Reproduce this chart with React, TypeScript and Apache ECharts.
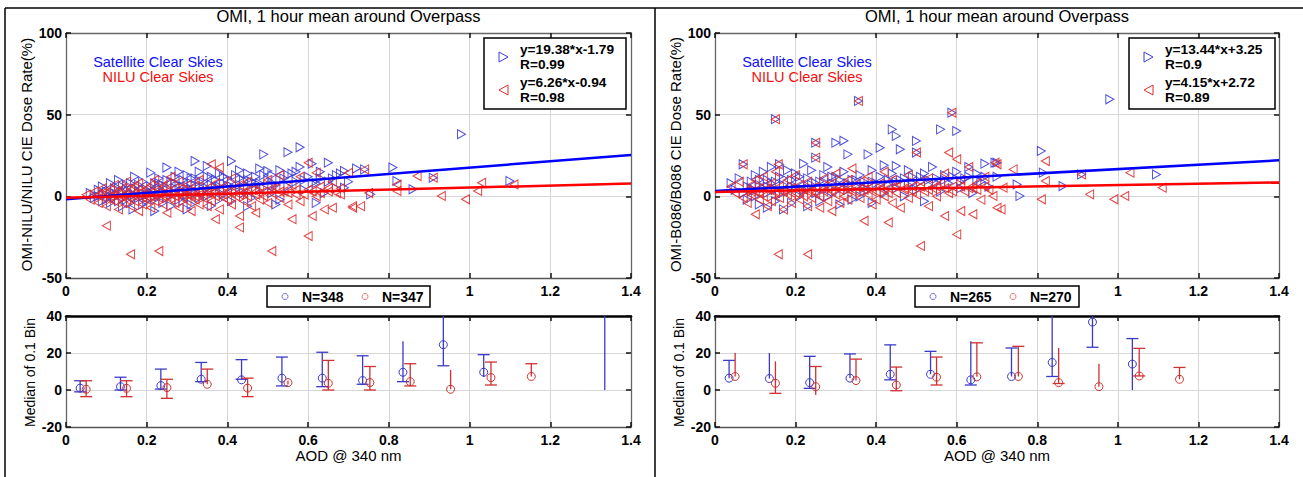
import React, { useEffect, useRef } from "react";
import * as echarts from "echarts";

// ---------- data ----------
const xTickLabels = ["0", "0.2", "0.4", "0.6", "0.8", "1", "1.2", "1.4"];
// labels hidden behind the N= legend box in the upper plots
const hiddenTopLabels = ["0.6", "0.8"];
const topYTicks = [-50, 0, 50, 100];
const botYTicks = [-20, 0, 20, 40];

// Left panel scatter (OMI-NILU/NILU), satellite clear skies (blue) and NILU clear skies (red)
const leftBlue: number[][] = [
  [0.06,2],[0.07,-1],[0.08,4],[0.08,0],[0.09,-3],[0.09,6],[0.10,1],[0.10,-2],[0.10,3],[0.11,8],[0.11,-4],[0.11,0],[0.12,2],[0.12,5],[0.12,-1],[0.13,10],[0.13,-3],[0.13,1],[0.14,3],[0.14,-6],[0.14,6],[0.15,0],[0.15,4],[0.15,-2],[0.16,8],[0.16,2],[0.16,-4],[0.17,1],[0.17,5],[0.17,12],[0.18,-1],[0.18,3],[0.18,7],[0.19,0],[0.19,-5],[0.19,9],[0.20,4],[0.20,1],[0.20,-3],[0.21,6],[0.21,14.5],[0.21,2],[0.22,-2],[0.22,8],[0.22,3],[0.23,0],[0.23,11],[0.23,5],[0.24,-4],[0.24,2],[0.24,7],[0.25,17.6],[0.25,4],[0.25,-1],[0.26,9],[0.26,1],[0.26,-6],[0.27,5],[0.27,12],[0.27,2],[0.28,-2],[0.28,7],[0.28,15],[0.29,3],[0.29,10],[0.29,-3],[0.30,6],[0.30,1],[0.30,13],[0.31,4],[0.31,-5],[0.31,8],[0.32,21.6],[0.32,2],[0.32,11],[0.33,6],[0.33,-1],[0.33,15],[0.34,3],[0.34,9],[0.35,18.6],[0.35,5],[0.35,0],[0.36,-5.9],[0.36,12],[0.36,7],[0.37,3],[0.37,10],[0.38,14],[0.38,6],[0.38,-2],[0.39,8],[0.39,1],[0.40,11],[0.40,5],[0.41,21.6],[0.41,9],[0.41,-3],[0.42,13],[0.42,4],[0.43,7],[0.43,16],[0.44,10],[0.44,2],[0.45,6],[0.45,14],[0.46,9],[0.46,-1],[0.47,12],[0.47,4],[0.48,8],[0.48,17],[0.49,25.7],[0.49,5],[0.50,15.5],[0.50,10],[0.51,2],[0.51,13],[0.52,7],[0.53,16],[0.53,-2],[0.54,11],[0.55,27],[0.55,6],[0.56,14],[0.57,9],[0.58,30],[0.58,18],[0.59,4],[0.60,12],[0.61,20],[0.62,8],[0.63,15],[0.64,2],[0.65,20.6],[0.66,11],[0.67,5],[0.68,14],[0.69,15.5],[0.69,5.3],[0.70,9],[0.72,17],[0.74,16.5],[0.755,1.2],[0.81,17.6],[0.82,9.4],[0.86,4.3],[0.91,11.4],[0.98,38],[1.10,9.4],[0.166,-8],[0.22,-9],[0.30,-8],[0.45,-6],[0.52,-5],[0.62,-4],
  [0.09,1],[0.11,3],[0.13,5],[0.15,7],[0.17,-1],[0.19,4],[0.21,-1],[0.23,8],[0.25,10],[0.27,8],[0.29,6],[0.31,11],[0.33,9],[0.35,12],[0.37,6],[0.39,12],[0.41,6],[0.43,11],[0.45,10],[0.47,8],[0.49,13],[0.51,7],[0.53,10],[0.55,13],[0.57,15],[0.59,10],[0.61,8],[0.63,11],[0.65,9],[0.67,13]
];
const leftRed: number[][] = [
  [0.05,1],[0.06,-2],[0.07,3],[0.08,-4],[0.08,1],[0.09,5],[0.09,-1],[0.10,-18],[0.10,2],[0.10,-6],[0.11,0],[0.11,4],[0.12,-3],[0.12,7],[0.12,1],[0.13,-1],[0.13,3],[0.13,-8],[0.14,5],[0.14,0],[0.14,-4],[0.15,2],[0.15,9],[0.15,-2],[0.16,-35.5],[0.16,4],[0.16,-6],[0.17,0],[0.17,6],[0.17,-3],[0.18,2],[0.18,-9],[0.18,8],[0.19,-1],[0.19,3],[0.19,-5],[0.20,5],[0.20,0],[0.20,-2],[0.21,7],[0.21,-7],[0.21,2],[0.22,-3],[0.22,10],[0.22,1],[0.23,-33.5],[0.23,4],[0.23,-1],[0.24,-5],[0.24,6],[0.24,0],[0.25,3],[0.25,-10],[0.25,8],[0.26,-2],[0.26,1],[0.26,12],[0.27,5],[0.27,-4],[0.27,0],[0.28,2],[0.28,-7],[0.28,9],[0.29,-1],[0.29,4],[0.30,-3],[0.30,7],[0.30,1],[0.31,-9],[0.31,3],[0.32,6],[0.32,-2],[0.32,0],[0.33,10],[0.33,-5],[0.33,3],[0.34,1],[0.34,-1],[0.35,5],[0.35,-6],[0.36,19.6],[0.36,2],[0.36,-3],[0.37,-14],[0.37,8],[0.37,0],[0.38,17.6],[0.38,4],[0.38,-8],[0.39,1],[0.39,6],[0.40,-2],[0.40,3],[0.41,11],[0.41,-5],[0.42,0],[0.42,5],[0.43,-12],[0.43,-19],[0.43,7],[0.44,2],[0.44,-3],[0.45,9],[0.45,0],[0.46,-6],[0.46,4],[0.47,-10],[0.47,1],[0.48,6],[0.48,-2],[0.49,3],[0.50,10],[0.50,-4],[0.51,-33.5],[0.51,2],[0.52,5],[0.53,-1],[0.53,13],[0.54,3],[0.55,-5],[0.56,-14],[0.56,7],[0.57,1],[0.58,12],[0.58,-3],[0.60,20.6],[0.60,-24.3],[0.60,4],[0.61,-12],[0.62,14.5],[0.62,0],[0.63,6],[0.64,-8],[0.65,3],[0.66,-7],[0.66,9],[0.68,1.2],[0.68,5],[0.70,14.4],[0.71,-7],[0.71,-6],[0.73,-6],[0.74,16.5],[0.75,2],[0.82,3.3],[0.82,7.3],[0.87,12.4],[0.91,11.4],[0.93,0.2],[0.99,-1.8],[1.02,3.3],[1.03,8.3],[1.11,7.3],
  [0.09,2],[0.11,-2],[0.13,1],[0.15,0],[0.17,2],[0.19,1],[0.21,0],[0.23,2],[0.25,0],[0.27,2],[0.29,1],[0.31,0],[0.33,1],[0.35,2],[0.37,3],[0.39,-1],[0.41,2],[0.43,1],[0.45,4],[0.47,3],[0.49,0],[0.51,5],[0.53,3],[0.55,2],[0.57,4],[0.59,1],[0.61,3],[0.63,2],[0.65,5],[0.67,2]
];

// Right panel scatter (OMI-B086/B086)
const rightBlue: number[][] = [
  [0.04,8],[0.05,4],[0.06,11],[0.07,19.6],[0.07,2],[0.08,6],[0.08,-2],[0.09,9],[0.09,3],[0.10,13],[0.10,0],[0.11,7],[0.11,-5],[0.12,5],[0.12,15],[0.13,2],[0.13,10],[0.13,-7],[0.14,8],[0.14,18],[0.15,4],[0.15,47.2],[0.15,-3],[0.16,12],[0.16,19.6],[0.16,1],[0.17,7],[0.17,-8],[0.18,16],[0.18,3],[0.19,10],[0.19,-4],[0.20,6],[0.20,14],[0.21,0],[0.21,9],[0.22,20],[0.22,4],[0.23,-6],[0.23,11],[0.24,7],[0.24,16],[0.25,32.8],[0.25,23.7],[0.25,2],[0.26,9],[0.26,-3],[0.27,13],[0.27,5],[0.28,18],[0.28,0],[0.29,8],[0.30,32.8],[0.30,3],[0.30,12],[0.31,-5],[0.31,7],[0.32,34],[0.32,15],[0.33,25.7],[0.33,4],[0.34,10],[0.34,-2],[0.35,6],[0.356,58.4],[0.36,13],[0.36,0],[0.37,9],[0.38,25.7],[0.38,4],[0.39,16],[0.39,-4],[0.40,8],[0.41,29.8],[0.41,12],[0.42,2],[0.42,19],[0.43,7],[0.44,41],[0.44,14],[0.45,37],[0.45,5],[0.45,18.6],[0.46,28.8],[0.46,10],[0.47,0],[0.48,16],[0.48,7],[0.49,12],[0.50,33.9],[0.50,26.8],[0.50,4],[0.51,9],[0.52,14],[0.52,-3],[0.53,7],[0.54,18],[0.55,11],[0.56,41],[0.56,3],[0.57,13],[0.58,8],[0.588,51.2],[0.60,40],[0.60,15],[0.61,5],[0.62,11],[0.63,18],[0.64,2],[0.65,14],[0.66,9],[0.67,20],[0.68,6],[0.695,20.6],[0.70,20.6],[0.70,12],[0.75,7.3],[0.757,0.2],[0.81,27.8],[0.815,14.5],[0.864,6.3],[0.91,13.4],[0.98,59.4],[1.096,13.4],
  [0.09,5],[0.11,10],[0.13,6],[0.15,9],[0.17,11],[0.19,6],[0.21,12],[0.23,5],[0.25,8],[0.27,9],[0.29,12],[0.31,10],[0.33,8],[0.35,10],[0.37,5],[0.39,9],[0.41,7],[0.43,10],[0.45,9],[0.47,11],[0.49,8],[0.51,12],[0.53,10],[0.55,8],[0.57,10],[0.59,12],[0.61,9],[0.63,12],[0.65,10],[0.67,12]
];
const rightRed: number[][] = [
  [0.04,6],[0.05,2],[0.06,9],[0.07,19.6],[0.07,-1],[0.08,4],[0.08,-4],[0.09,7],[0.09,1],[0.10,-11],[0.10,10],[0.10,3],[0.11,-2],[0.11,5],[0.12,12],[0.12,0],[0.13,-6],[0.13,4],[0.14,8],[0.14,-3],[0.15,47.2],[0.15,2],[0.15,15],[0.157,-35.5],[0.157,19.6],[0.16,6],[0.16,-1],[0.17,3],[0.17,-8],[0.18,10],[0.18,1],[0.19,-4],[0.19,5],[0.20,2],[0.20,13],[0.21,-2],[0.21,7],[0.22,0],[0.22,4],[0.23,-35.5],[0.23,9],[0.23,-6],[0.24,3],[0.24,-1],[0.25,32.8],[0.25,23.7],[0.25,6],[0.26,0],[0.26,-7],[0.27,11],[0.27,3],[0.28,-3],[0.28,5],[0.29,-9],[0.29,8],[0.30,1],[0.30,14],[0.31,4],[0.31,-4],[0.32,7],[0.32,0],[0.33,10],[0.33,-2],[0.34,3],[0.34,17],[0.35,6],[0.356,58.4],[0.36,-1],[0.36,9],[0.37,-15],[0.37,4],[0.38,12],[0.38,1],[0.39,-5],[0.39,6],[0.40,3],[0.40,-2],[0.41,8],[0.42,15],[0.42,0],[0.43,-16],[0.43,5],[0.44,-4],[0.44,10],[0.45,2],[0.46,7],[0.46,-7],[0.47,4],[0.48,13],[0.48,-1],[0.49,6],[0.50,26.8],[0.50,1],[0.51,-30.4],[0.51,9],[0.52,3],[0.53,-6],[0.53,11],[0.54,5],[0.55,0],[0.56,8],[0.57,-12],[0.57,14],[0.58,26.8],[0.58,2],[0.588,51.2],[0.59,6],[0.60,22.7],[0.60,-23.3],[0.61,-9],[0.61,10],[0.62,3],[0.63,18],[0.64,-11],[0.64,5],[0.65,8],[0.66,-2],[0.67,12],[0.68,4],[0.69,0.2],[0.695,20.6],[0.70,-7],[0.70,19.6],[0.71,-8],[0.715,5.3],[0.74,16.5],[0.81,-1.8],[0.82,21.6],[0.82,9.4],[0.91,13.4],[0.93,1.2],[0.99,-1.8],[1.017,0.2],[1.03,14.5],[1.11,5.3],
  [0.09,3],[0.11,2],[0.13,5],[0.15,3],[0.17,4],[0.19,2],[0.21,4],[0.23,3],[0.25,2],[0.27,5],[0.29,3],[0.31,6],[0.33,4],[0.35,3],[0.37,6],[0.39,3],[0.41,5],[0.43,2],[0.45,6],[0.47,5],[0.49,3],[0.51,6],[0.53,4],[0.55,6],[0.57,5],[0.59,3],[0.61,6],[0.63,5],[0.65,4],[0.67,6]
];

// Regression fits [slope, intercept]
const leftFitBlue = [19.38, -1.79];
const leftFitRed = [6.26, -0.94];
const rightFitBlue = [13.44, 3.25];
const rightFitRed = [4.15, 2.72];

// Median of 0.1 bins: [x, median, low, high, capLow, capHigh]
const leftMedBlue: number[][] = [
  [0.035,1,-1,5,1,1],[0.135,1.8,0,6.9,1,1],[0.235,2.4,0.5,11.3,1,1],[0.335,5.8,4.5,14.9,1,1],
  [0.435,5.5,5.8,16.4,1,1],[0.535,6.4,2.2,17.8,1,1],[0.635,6.4,1.8,20.4,1,1],[0.735,5.1,3.1,18.5,1,1],
  [0.835,9.6,4.5,26.4,1,0],[0.935,24.5,13.1,45,1,0],[1.035,9.6,7,19.1,0,1],[1.335,48,0,70,0,0]
];
const leftMedRed: number[][] = [
  [0.05,0.4,-3.6,5,1,1],[0.15,0.9,-3.6,5,1,1],[0.25,1.3,-4.5,5.8,1,1],[0.35,3.1,3.1,11.3,0,1],
  [0.45,1,-3.6,6.4,1,1],[0.55,4,3,5,0,0],[0.65,3.6,0,16,1,1],[0.753,4,0,12.7,1,1],
  [0.853,4.5,2.2,14.2,1,1],[0.953,0.4,0.4,10.9,0,0],[1.053,6.7,2.7,15.1,1,1],[1.153,7.3,7.3,14.2,0,1]
];
const rightMedBlue: number[][] = [
  [0.035,6.4,6.4,16,0,1],[0.135,6.2,6.2,20,0,0],[0.235,4,0.9,18.2,1,1],[0.335,6.4,6.4,19.5,0,1],
  [0.435,8.5,5.5,24.4,1,1],[0.535,8.5,8.5,20.9,0,1],[0.635,5.5,2.7,26.4,1,0],[0.736,7.3,7.3,22.7,0,1],
  [0.837,14.9,7.3,50,1,0],[0.937,36.7,23.1,45,1,0],[1.036,14,0,27.8,0,1]
];
const rightMedRed: number[][] = [
  [0.05,7.3,7.3,20,0,0],[0.15,3.6,-1.8,15.5,1,0],[0.25,1.8,-2.7,12.7,0,1],[0.35,5.1,5.1,16.7,0,1],
  [0.45,2.7,-0.4,12.4,1,1],[0.55,6.9,2.7,17.8,1,1],[0.65,7.1,7.1,25.5,0,1],[0.753,7.3,7.3,23.6,0,1],
  [0.853,4,3.5,22.7,1,0],[0.953,1.8,1.8,14.2,0,0],[1.053,7.6,7.6,22.5,1,1],[1.153,5.8,5.8,12.2,0,1]
];

const titleText = "OMI, 1 hour mean around Overpass";
const legendSat = "Satellite Clear Skies";
const legendNilu = "NILU Clear Skies";

// ---------- styling ----------
const FONT = '"Liberation Sans", Arial, sans-serif';
const BLUE = "#3c3cd8";
const RED = "#e02c2c";
const BLUE_LINE = "#0000ff";
const RED_LINE = "#ff0000";
const BLUE_ERR = "#3a3ac8";
const RED_ERR = "#cf3030";

const panels = [
  {
    left: 66, width: 565,
    ylabel: "OMI-NILU/NILU CIE Dose Rate(%)",
    blue: leftBlue, red: leftRed, fitB: leftFitBlue, fitR: leftFitRed,
    eqB: "y=19.38*x-1.79", rB: "R=0.99", eqR: "y=6.26*x-0.94", rR: "R=0.98",
    nB: "N=348", nR: "N=347", medB: leftMedBlue, medR: leftMedRed,
    legX: 484, legW: 142, nX: 267, nW: 163,
  },
  {
    left: 715, width: 564,
    ylabel: "OMI-B086/B086 CIE Dose Rate(%)",
    blue: rightBlue, red: rightRed, fitB: rightFitBlue, fitR: rightFitRed,
    eqB: "y=13.44*x+3.25", rB: "R=0.9", eqR: "y=4.15*x+2.72", rR: "R=0.89",
    nB: "N=265", nR: "N=270", medB: rightMedBlue, medR: rightMedRed,
    legX: 1129, legW: 146, nX: 915, nW: 164,
  },
];

const TOP_Y = 33, TOP_H = 245, BOT_Y = 316, BOT_H = 111;

function xAxesFor(gi: number, bottomPlot: boolean) {
  const label = {
    show: true, fontFamily: FONT, fontWeight: "bold", fontSize: 14, color: "#000", margin: 6,
    formatter: (v: number) => {
      const s = xTickLabels[Math.round(v / 0.2)] ?? String(v);
      if (!bottomPlot && hiddenTopLabels.includes(s)) return "";
      return s;
    },
  };
  return [
    {
      type: "value", gridIndex: gi, min: 0, max: 1.4, interval: 0.2, position: "bottom",
      axisLine: { show: true, onZero: false, lineStyle: { color: "#555", width: 1.3 } },
      axisTick: { show: true, inside: true, length: 5, lineStyle: { color: "#111", width: 1.5 } },
      axisLabel: label,
      splitLine: { show: true, lineStyle: { color: "#d6d6d6", width: 1 } },
    },
    {
      type: "value", gridIndex: gi, min: 0, max: 1.4, interval: 0.2, position: "top",
      axisLine: { show: true, onZero: false, lineStyle: { color: bottomPlot ? "#000" : "#666", width: bottomPlot ? 2.5 : 1.3 } },
      axisTick: { show: true, inside: true, length: 5, lineStyle: { color: "#111", width: 1.5 } },
      axisLabel: { show: false },
      splitLine: { show: false },
    },
  ];
}

function yAxesFor(gi: number, ticks: number[]) {
  const min = ticks[0], max = ticks[ticks.length - 1], interval = ticks[1] - ticks[0];
  return [
    {
      type: "value", gridIndex: gi, min, max, interval, position: "left",
      axisLine: { show: true, onZero: false, lineStyle: { color: "#666", width: 1.3 } },
      axisTick: { show: true, inside: true, length: 5, lineStyle: { color: "#111", width: 1.5 } },
      axisLabel: { show: true, fontFamily: FONT, fontWeight: "bold", fontSize: 14, color: "#000", margin: 4 },
      splitLine: { show: true, lineStyle: { color: "#d6d6d6", width: 1 } },
    },
    {
      type: "value", gridIndex: gi, min, max, interval, position: "right",
      axisLine: { show: true, onZero: false, lineStyle: { color: "#666", width: 1.3 } },
      axisTick: { show: true, inside: true, length: 5, lineStyle: { color: "#111", width: 1.5 } },
      axisLabel: { show: false },
      splitLine: { show: false },
    },
  ];
}

function errRender(color: string) {
  return (params: any, api: any) => {
    const x = api.value(0), m = api.value(1), lo = api.value(2), hi = api.value(3);
    const cl = api.value(4), ch = api.value(5);
    const cs = params.coordSys;
    const top = cs.y, bot = cs.y + cs.height;
    const pm = api.coord([x, m]);
    const pl = api.coord([x, lo]);
    const ph = api.coord([x, hi]);
    const cx = pm[0];
    const cy = (v: number) => Math.max(top, Math.min(bot, v));
    const inside = (v: number) => v >= top - 0.5 && v <= bot + 0.5;
    const children: any[] = [];
    children.push({
      type: "line",
      shape: { x1: cx, y1: cy(pl[1]), x2: cx, y2: cy(ph[1]) },
      style: { stroke: color, lineWidth: 1.3 },
    });
    if (cl && inside(pl[1]))
      children.push({ type: "line", shape: { x1: cx - 6, y1: pl[1], x2: cx + 6, y2: pl[1] }, style: { stroke: color, lineWidth: 1.3 } });
    if (ch && inside(ph[1]))
      children.push({ type: "line", shape: { x1: cx - 6, y1: ph[1], x2: cx + 6, y2: ph[1] }, style: { stroke: color, lineWidth: 1.3 } });
    if (inside(pm[1]))
      children.push({ type: "circle", shape: { cx, cy: pm[1], r: 4 }, style: { fill: "rgba(255,255,255,0)", stroke: color, lineWidth: 1 } });
    return { type: "group", children };
  };
}

const RIGHT_TRI = "path://M0,0L10,5.5L0,11Z";
const LEFT_TRI = "path://M10,0L0,5.5L10,11Z";

function centerText(text: string, x: number, y: number, font: string, fill: string, rotation = 0) {
  return {
    type: "text", x, y, rotation, z: 100,
    style: { text, font, fill, textAlign: "center", textVerticalAlign: "middle", align: "center", verticalAlign: "middle" },
  };
}
function leftText(text: string, x: number, y: number, font: string) {
  return {
    type: "text", x, y, z: 101,
    style: { text, font, fill: "#000", textAlign: "left", textVerticalAlign: "middle", align: "left", verticalAlign: "middle" },
  };
}

function buildOption() {
  const grid: any[] = [];
  const xAxis: any[] = [];
  const yAxis: any[] = [];
  const series: any[] = [];
  const graphic: any[] = [];

  panels.forEach((p, pi) => {
    const gTop = pi * 2, gBot = pi * 2 + 1;
    grid.push({ left: p.left, top: TOP_Y, width: p.width, height: TOP_H });
    grid.push({ left: p.left, top: BOT_Y, width: p.width, height: BOT_H });
    xAxis.push(...xAxesFor(gTop, false), ...xAxesFor(gBot, true));
    yAxis.push(...yAxesFor(gTop, topYTicks), ...yAxesFor(gBot, botYTicks));

    const xi = gTop * 2, yi = gTop * 2;
    series.push({
      type: "scatter", xAxisIndex: xi, yAxisIndex: yi, data: p.blue,
      symbol: RIGHT_TRI, symbolSize: [8, 9],
      itemStyle: { color: "rgba(255,255,255,0)", borderColor: BLUE, borderWidth: 1, opacity: 0.9 },
      z: 2,
    });
    series.push({
      type: "scatter", xAxisIndex: xi, yAxisIndex: yi, data: p.red,
      symbol: LEFT_TRI, symbolSize: [8, 9],
      itemStyle: { color: "rgba(255,255,255,0)", borderColor: RED, borderWidth: 1, opacity: 0.9 },
      z: 3,
    });
    series.push({
      type: "line", xAxisIndex: xi, yAxisIndex: yi,
      data: [[0, p.fitB[1]], [1.4, p.fitB[0] * 1.4 + p.fitB[1]]],
      showSymbol: false, symbol: "none", lineStyle: { color: BLUE_LINE, width: 2.5 }, z: 5,
    });
    series.push({
      type: "line", xAxisIndex: xi, yAxisIndex: yi,
      data: [[0, p.fitR[1]], [1.4, p.fitR[0] * 1.4 + p.fitR[1]]],
      showSymbol: false, symbol: "none", lineStyle: { color: RED_LINE, width: 2.5 }, z: 6,
    });
    const xb = gBot * 2, yb = gBot * 2;
    series.push({
      type: "custom", xAxisIndex: xb, yAxisIndex: yb, data: p.medB,
      renderItem: errRender(BLUE_ERR), z: 4,
    });
    series.push({
      type: "custom", xAxisIndex: xb, yAxisIndex: yb, data: p.medR,
      renderItem: errRender(RED_ERR), z: 4,
    });

    const cx = p.left + p.width / 2;
    graphic.push(centerText(titleText, cx, 16, `16.5px ${FONT}`, "#000"));
    graphic.push(centerText(p.ylabel, p.left - 40, TOP_Y + TOP_H / 2 - 1, `15px ${FONT}`, "#000", Math.PI / 2));
    graphic.push(centerText("Median of 0.1 Bin", p.left - 36, BOT_Y + BOT_H / 2 + 1, `14px ${FONT}`, "#000", Math.PI / 2));
    graphic.push(centerText("AOD @ 340 nm", cx, 455, `15px ${FONT}`, "#000"));
    graphic.push(centerText(legendSat, p.left + 92, 62, `14.5px ${FONT}`, "#1010f0"));
    graphic.push(centerText(legendNilu, p.left + 92, 77, `14.5px ${FONT}`, "#f01010"));

    // equation legend box
    graphic.push({
      type: "rect", z: 100, shape: { x: p.legX, y: 38, width: p.legW, height: 71 },
      style: { fill: "#fff", stroke: "#000", lineWidth: 1.5 },
    });
    const mx = p.legX + 19;
    graphic.push({
      type: "polygon", z: 101, shape: { points: [[mx - 4, 52], [mx + 5, 57], [mx - 4, 62]] },
      style: { fill: "none", stroke: BLUE, lineWidth: 1 },
    });
    graphic.push({
      type: "polygon", z: 101, shape: { points: [[mx + 5, 85], [mx - 4, 90], [mx + 5, 95]] },
      style: { fill: "none", stroke: RED, lineWidth: 1 },
    });
    const tx = p.legX + 36;
    graphic.push(leftText(p.eqB, tx, 49, `bold 13.7px ${FONT}`));
    graphic.push(leftText(p.rB, tx, 64, `bold 13.7px ${FONT}`));
    graphic.push(leftText(p.eqR, tx, 82, `bold 13.7px ${FONT}`));
    graphic.push(leftText(p.rR, tx, 97, `bold 13.7px ${FONT}`));

    // N legend box
    graphic.push({
      type: "rect", z: 100, shape: { x: p.nX, y: 286, width: p.nW, height: 21 },
      style: { fill: "#fff", stroke: "#000", lineWidth: 1.5 },
    });
    graphic.push({ type: "circle", z: 101, shape: { cx: p.nX + 18, cy: 296.5, r: 3 }, style: { fill: "none", stroke: "#7070d8", lineWidth: 1 } });
    graphic.push({ type: "circle", z: 101, shape: { cx: p.nX + 98, cy: 296.5, r: 3 }, style: { fill: "none", stroke: "#e07070", lineWidth: 1 } });
    graphic.push(leftText(p.nB, p.nX + 35, 297, `bold 14px ${FONT}`));
    graphic.push(leftText(p.nR, p.nX + 115, 297, `bold 14px ${FONT}`));
  });

  // page frame lines
  graphic.push({ type: "line", z: 100, shape: { x1: 5, y1: 8, x2: 1303, y2: 8 }, style: { stroke: "#000", lineWidth: 1.5 } });
  graphic.push({ type: "line", z: 100, shape: { x1: 5, y1: 8, x2: 5, y2: 477 }, style: { stroke: "#000", lineWidth: 1.5 } });
  graphic.push({ type: "line", z: 100, shape: { x1: 655, y1: 8, x2: 655, y2: 477 }, style: { stroke: "#000", lineWidth: 1.5 } });

  return {
    animation: false,
    backgroundColor: "#fff",
    grid, xAxis, yAxis, series, graphic,
  };
}

export default function App() {
  const ref = useRef<HTMLDivElement>(null);
  useEffect(() => {
    if (!ref.current) return;
    const chart = echarts.init(ref.current, undefined, { renderer: "svg" });
    chart.setOption(buildOption() as any);
    return () => chart.dispose();
  }, []);
  return (
    <div
      ref={ref}
      style={{ position: "fixed", left: 0, top: 0, width: 1303, height: 477, background: "#fff" }}
    />
  );
}
